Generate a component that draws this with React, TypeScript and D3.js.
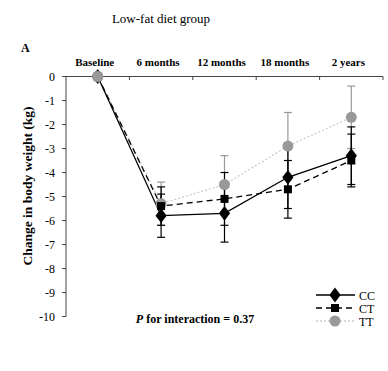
import React from "react";
import * as d3 from "d3";

const categories = ["Baseline", "6 months", "12 months", "18 months", "2 years"];
const ccValues = [0, -5.8, -5.7, -4.2, -3.3];
const ccErrors = [0, 0.9, 1.2, 1.3, 1.2];
const ctValues = [0, -5.4, -5.1, -4.7, -3.5];
const ctErrors = [0, 0.8, 1.1, 1.2, 1.1];
const ttValues = [0, -5.3, -4.5, -2.9, -1.7];
const ttErrors = [0, 0.9, 1.2, 1.4, 1.3];
const yTicks = [0, -1, -2, -3, -4, -5, -6, -7, -8, -9, -10];
const seriesNames = ["CC", "CT", "TT"];

const W = 388;
const H = 371;
const FONT = "'Liberation Serif', 'DejaVu Serif', serif";

export default function App() {
  const x = d3.scaleBand<string>().domain(categories).range([66, 383]).padding(0);
  const y = d3.scaleLinear().domain([0, -10]).range([76.5, 316.5]);
  const cx = (c: string) => (x(c) as number) + x.bandwidth() / 2;

  const line = d3
    .line<number>()
    .x((_, i) => cx(categories[i]))
    .y((v) => y(v));

  const series = [
    { name: seriesNames[0], values: ccValues, errors: ccErrors, color: "#000", lineColor: "#000", dash: "none", marker: "diamond", width: 1.3 },
    { name: seriesNames[1], values: ctValues, errors: ctErrors, color: "#000", lineColor: "#000", dash: "6,4", marker: "square", width: 1.3 },
    { name: seriesNames[2], values: ttValues, errors: ttErrors, color: "#999", lineColor: "#ccc", dash: "2,2", marker: "circle", width: 1.3 },
  ];

  const marker = (type: string, px: number, py: number, color: string, key: string) => {
    if (type === "diamond") {
      const s = d3.symbol().type(d3.symbolDiamond).size(70)();
      return <path key={key} d={s as string} transform={`translate(${px},${py}) scale(1.25,0.95)`} fill={color} />;
    }
    if (type === "square") {
      return <rect key={key} x={px - 4} y={py - 4} width={8} height={8} fill={color} />;
    }
    return <circle key={key} cx={px} cy={py} r={5.5} fill={color} />;
  };

  const drawOrder = [series[2], series[1], series[0]];

  return (
    <svg width={W} height={H} style={{ position: "absolute", left: 0, top: 0, background: "#fff" }} fontFamily={FONT}>
      <rect width={W} height={H} fill="#fff" />
      <text x={161} y={23} textAnchor="middle" fontSize={13}>Low-fat diet group</text>
      <text x={21} y={52} fontSize={12} fontWeight="bold">A</text>

      {/* top axis */}
      <line x1={66} x2={383} y1={76.5} y2={76.5} stroke="#444" strokeWidth={1} />
      {categories.map((c, i) => (
        <line key={"xt" + i} x1={(x(c) as number) + x.bandwidth()} x2={(x(c) as number) + x.bandwidth()} y1={76.5} y2={80} stroke="#444" />
      ))}
      {categories.map((c, i) => (
        <text key={"xl" + i} x={cx(c) - 3} y={66} textAnchor="middle" fontSize={11} fontWeight="bold">{c}</text>
      ))}

      {/* left axis */}
      <line x1={66} x2={66} y1={76.5} y2={316.5} stroke="#444" strokeWidth={1} />
      {yTicks.map((t) => (
        <g key={"yt" + t}>
          <line x1={62} x2={66} y1={y(t)} y2={y(t)} stroke="#444" />
          <text x={55} y={y(t) + 4} textAnchor="end" fontSize={12}>{t}</text>
        </g>
      ))}
      <text transform={`translate(32,186) rotate(-90)`} textAnchor="middle" fontSize={13.5} fontWeight="bold">
        Change in body weight (kg)
      </text>

      {/* error bars */}
      {drawOrder.map((s) =>
        s.values.map((v, i) => {
          if (s.errors[i] === 0) return null;
          const px = cx(categories[i]);
          const y1 = y(v + s.errors[i]);
          const y2 = y(v - s.errors[i]);
          return (
            <g key={s.name + "e" + i} stroke={s.color} strokeWidth={1.2}>
              <line x1={px} x2={px} y1={y1} y2={y2} />
              <line x1={px - 4} x2={px + 4} y1={y1} y2={y1} />
              <line x1={px - 4} x2={px + 4} y1={y2} y2={y2} />
            </g>
          );
        })
      )}

      {/* lines */}
      {drawOrder.map((s) => (
        <path key={s.name + "l"} d={line(s.values) as string} fill="none" stroke={s.lineColor} strokeWidth={s.width} strokeDasharray={s.dash} />
      ))}

      {/* markers */}
      {drawOrder.map((s) => s.values.map((v, i) => marker(s.marker, cx(categories[i]), y(v), s.color, s.name + "m" + i)))}
      {marker("circle", cx(categories[0]), y(0), "#999", "base")}

      {/* legend */}
      {series.map((s, i) => {
        const ly = 295 + i * 13;
        return (
          <g key={"lg" + i}>
            <line x1={316} x2={355} y1={ly} y2={ly} stroke={s.lineColor} strokeWidth={s.width} strokeDasharray={s.dash} />
            {marker(s.marker, 335, ly, s.color, "lgm" + i)}
            <text x={359} y={ly + 4.5} fontSize={12}>{s.name}</text>
          </g>
        );
      })}

      <text x={195} y={323} textAnchor="middle" fontSize={12} fontWeight="bold">
        <tspan fontStyle="italic">P</tspan> for interaction = 0.37
      </text>
    </svg>
  );
}
